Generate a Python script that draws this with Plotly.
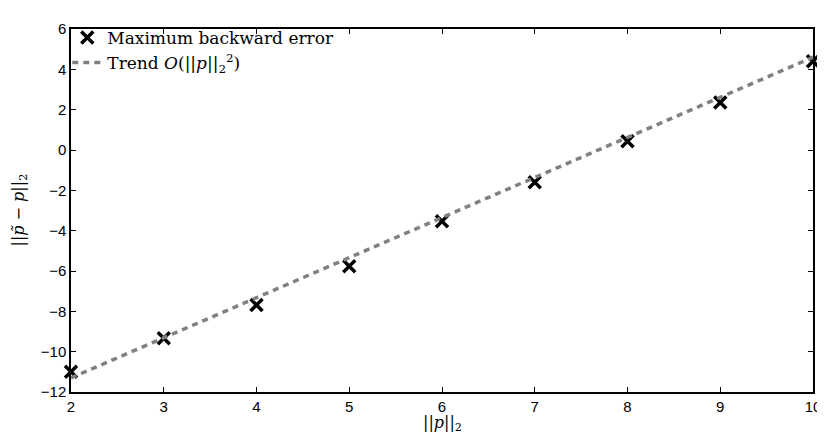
import plotly.graph_objects as go

x_vals = [2, 3, 4, 5, 6, 7, 8, 9, 10]
max_backward_error = [-11.0, -9.34, -7.69, -5.76, -3.53, -1.60, 0.43, 2.35, 4.40]
trend_x = [2, 10]
trend_y = [-11.3, 4.6]
x_ticks = [2, 3, 4, 5, 6, 7, 8, 9, 10]
y_ticks = [-12, -10, -8, -6, -4, -2, 0, 2, 4, 6]
x_title = "||<i>p</i>||<sub>2</sub>"
y_title = "||<i>p̃</i> − <i>p</i>||<sub>2</sub>"

serif = "DejaVu Serif, Liberation Serif, serif"
sans = "Liberation Sans, Arial, sans-serif"

fig = go.Figure()
fig.add_trace(go.Scatter(
    x=x_vals, y=max_backward_error, mode="markers",
    name="Maximum backward error", cliponaxis=False,
    marker=dict(symbol="x-thin-open", size=12, color="black",
                line=dict(color="black", width=3.5)),
))
fig.add_trace(go.Scatter(
    x=trend_x, y=trend_y, mode="lines",
    name="Trend <i>O</i>(||<i>p</i>||<sub>2</sub><sup>2</sup>)",
    line=dict(color="#808080", width=3.5, dash="6px,5px"),
))

axis_common = dict(
    showline=True, linecolor="black", linewidth=1.5, mirror="ticks",
    ticks="inside", ticklen=5, tickcolor="black", tickwidth=1,
    showgrid=False, zeroline=False, automargin=False,
    tickfont=dict(family=sans, size=15, color="black"),
)

fig.update_xaxes(range=[2, 10], tickvals=x_ticks, **axis_common)
fig.update_yaxes(range=[-12, 6], tickvals=y_ticks, **axis_common)

fig.add_annotation(text=x_title, xref="paper", yref="paper", x=0.5, y=0,
                   xanchor="center", yanchor="top", yshift=-19, showarrow=False,
                   font=dict(family=serif, size=16, color="black"))
fig.add_annotation(text=y_title, xref="paper", yref="paper", x=0, y=0.5,
                   xanchor="center", yanchor="middle", xshift=-52, textangle=-90,
                   showarrow=False, font=dict(family=serif, size=16, color="black"))

# the page body has an 8px default margin, so the figure is sized/offset to compensate
fig.update_layout(
    width=817, height=432,
    margin=dict(l=63, r=12, t=12, b=48),
    paper_bgcolor="white", plot_bgcolor="white",
    showlegend=True,
    legend=dict(x=-0.005, y=1.025, xanchor="left", yanchor="top",
                bgcolor="rgba(255,255,255,0)", borderwidth=0,
                font=dict(family=serif, size=17, color="black"),
                tracegroupgap=0, itemwidth=30),
)

fig.write_html("out.html")
